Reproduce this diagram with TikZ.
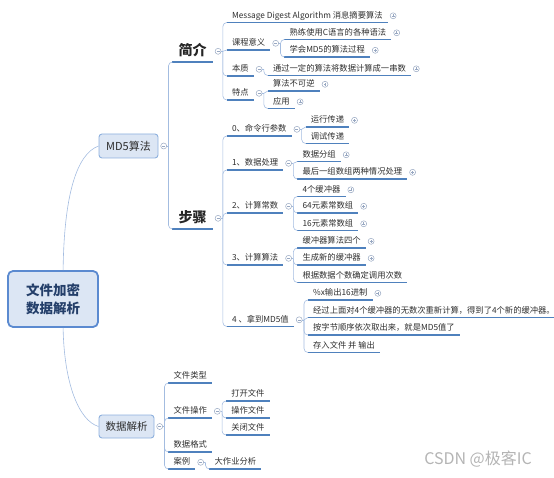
\documentclass[tikz,border=0pt]{standalone}
\usepackage{fontspec}
\setmainfont{Noto Sans CJK SC}
\usetikzlibrary{positioning,calc}
\definecolor{txt}{HTML}{2E2E2E}
\definecolor{ul}{HTML}{4F81BD}
\definecolor{cn}{HTML}{A3BCE0}
\definecolor{cc}{HTML}{98A8C2}
\definecolor{boxfill}{HTML}{DCE6F4}
\definecolor{rootdraw}{HTML}{5B8AD0}
\definecolor{boxdraw}{HTML}{8DB0DE}
\definecolor{roottxt}{HTML}{243F6A}
\definecolor{wmgray}{HTML}{B4B4B4}
\newcommand\mmbranch[2]{\draw[conn] (#1) |- (#2.south west);}
\newcommand\mmstraight[2]{\draw[conn] (#1) to[out=0,in=180] (#2.south west);}
\newcommand\mmstub[2]{\draw[conn] (#1.east) -- (#2);}
\begin{document}
\begin{tikzpicture}[x=1pt,y=-1pt,
  uline/.style={draw=ul, line width=1.1pt},
  conn/.style={draw=cn, line width=0.6pt, rounded corners=4pt},
  leaf/.style={font=\fontsize{8.3}{9}\selectfont, text=txt, inner xsep=5pt, inner ysep=2.5pt,
    text height=6.5pt, text depth=1.5pt, anchor=south west, xshift=4pt,
    append after command={(\tikzlastnode.south west) edge[uline] (\tikzlastnode.south east)}},
  title/.style={font=\fontsize{14}{16}\selectfont\bfseries, text=black!85, inner xsep=6pt, inner ysep=4pt,
    text height=11pt, text depth=2pt, anchor=south west, xshift=4pt,
    append after command={(\tikzlastnode.south west) edge[uline] (\tikzlastnode.south east)}},
  cplus/.style={circle, draw=cc, fill=white, line width=0.5pt, minimum size=6pt, inner sep=0pt,
    path picture={\draw[cc, line width=0.5pt]
      ([xshift=-1.4pt]path picture bounding box.center) -- ([xshift=1.4pt]path picture bounding box.center)
      ([yshift=-1.4pt]path picture bounding box.center) -- ([yshift=1.4pt]path picture bounding box.center);}},
  cminus/.style={circle, draw=cc, fill=white, line width=0.5pt, minimum size=6pt, inner sep=0pt,
    path picture={\draw[cc, line width=0.5pt]
      ([xshift=-1.5pt]path picture bounding box.center) -- ([xshift=1.5pt]path picture bounding box.center);}},
  rootbox/.style={draw=rootdraw, fill=boxfill, line width=1.8pt, rounded corners=5pt,
    minimum width=90pt, minimum height=56pt, align=center, text=roottxt,
    font=\fontsize{13.5}{18}\selectfont\bfseries},
  midbox/.style={draw=boxdraw, fill=boxfill, line width=0.9pt, rounded corners=3pt, text=txt, inner sep=0pt},
  wm/.style={text=wmgray, font=\fontsize{16}{18}\selectfont}
]
\useasboundingbox (0,0) rectangle (554,478);

% main boxes
\node[rootbox] (root) at (53,299) {文件加密\\数据解析};
\node[midbox, minimum width=59pt, minimum height=24pt, font=\fontsize{11}{13}\selectfont] (md5) at (128.5,146) {MD5算法};
\node[midbox, minimum width=55pt, minimum height=23pt, font=\fontsize{10.5}{12}\selectfont] (dj) at (126.5,426.5) {数据解析};
\node[cminus, right=2pt of md5] (md5c) {};
\node[cminus, right=2pt of dj] (djc) {};
\coordinate (md5s) at ([xshift=1.5pt]md5c.east);
\coordinate (djs) at ([xshift=1.5pt]djc.east);

\coordinate (rt) at ($(root.north west)!0.61!(root.north east)$);
\coordinate (rb) at ($(root.south west)!0.61!(root.south east)$);
\draw[conn] (rt) .. controls +(1,-75) and +(-22,8) .. (md5.west);
\draw[conn] (rb) .. controls +(1,55) and +(-20,-6) .. (dj.west);

% titles
\node[title] (jj) at (md5s |- 0,62) {简介};
\node[title] (bz) at (md5s |- 0,229) {步骤};
\mmstub{md5c}{md5s}
\mmbranch{md5s}{jj}
\mmbranch{md5s}{bz}
\node[cminus, right=2pt of jj] (jjc) {};
\node[cminus, right=2pt of bz] (bzc) {};
\coordinate (jjs) at ([xshift=1.5pt]jjc.east);
\coordinate (bzs) at ([xshift=1.5pt]bzc.east);

% 简介 children
\node[leaf] (a1) at (jjs |- 0,22.5) {Message Digest Algorithm 消息摘要算法};
\node[leaf] (a2) at (jjs |- 0,50) {课程意义};
\node[leaf] (a3) at (jjs |- 0,76) {本质};
\node[leaf] (a4) at (jjs |- 0,100) {特点};
\mmstub{jjc}{jjs}
\mmbranch{jjs}{a1}
\mmstraight{jjs}{a2}
\mmbranch{jjs}{a3}
\mmbranch{jjs}{a4}
\node[cplus, right=2pt of a1] (a1c) {};
\node[cminus, right=2pt of a2] (a2c) {};
\node[cminus, right=2pt of a3] (a3c) {};
\node[cminus, right=2pt of a4] (a4c) {};
\coordinate (a2s) at ([xshift=1.5pt]a2c.east);
\coordinate (a3s) at ([xshift=1.5pt]a3c.east);
\coordinate (a4s) at ([xshift=1.5pt]a4c.east);

\node[leaf] (a21) at (a2s |- 0,39.5) {熟练使用C语言的各种语法};
\node[leaf] (a22) at (a2s |- 0,57) {学会MD5的算法过程};
\mmstub{a2c}{a2s}
\mmbranch{a2s}{a21}
\mmbranch{a2s}{a22}
\node[cplus, right=2pt of a21] (a21c) {};
\node[cplus, right=2pt of a22] (a22c) {};

\node[leaf] (a31) at (a3s |- 0,75.5) {通过一定的算法将数据计算成一串数};
\mmstub{a3c}{a3s}
\mmbranch{a3s}{a31}
\node[cplus, right=2pt of a31] (a31c) {};

\node[leaf] (a41) at (a4s |- 0,91) {算法不可逆};
\node[leaf] (a42) at (a4s |- 0,108.5) {应用};
\mmstub{a4c}{a4s}
\mmstraight{a4s}{a41}
\mmbranch{a4s}{a42}
\node[cplus, right=2pt of a41] (a41c) {};
\node[cplus, right=2pt of a42] (a42c) {};

% 步骤 children
\node[leaf] (b0) at (bzs |- 0,136) {0、命令行参数};
\node[leaf] (b1) at (bzs |- 0,170) {1、数据处理};
\node[leaf] (b2) at (bzs |- 0,213) {2、计算常数};
\node[leaf] (b3) at (bzs |- 0,265) {3、计算算法};
\node[leaf] (b4) at (bzs |- 0,326.5) {4 、拿到MD5值};
\mmstub{bzc}{bzs}
\mmbranch{bzs}{b0}
\mmbranch{bzs}{b1}
\mmbranch{bzs}{b2}
\mmbranch{bzs}{b3}
\mmbranch{bzs}{b4}
\node[cminus, right=2pt of b0] (b0c) {};
\node[cminus, right=2pt of b1] (b1c) {};
\node[cminus, right=2pt of b2] (b2c) {};
\node[cminus, right=2pt of b3] (b3c) {};
\node[cminus, right=2pt of b4] (b4c) {};
\coordinate (b0s) at ([xshift=1.5pt]b0c.east);
\coordinate (b1s) at ([xshift=1.5pt]b1c.east);
\coordinate (b2s) at ([xshift=1.5pt]b2c.east);
\coordinate (b3s) at ([xshift=1.5pt]b3c.east);
\coordinate (b4s) at ([xshift=1.5pt]b4c.east);

\node[leaf] (b01) at (b0s |- 0,127) {运行传递};
\node[leaf] (b02) at (b0s |- 0,143.5) {调试传递};
\mmstub{b0c}{b0s}
\mmstraight{b0s}{b01}
\mmbranch{b0s}{b02}
\node[cplus, right=2pt of b01] (b01c) {};

\node[leaf] (b11) at (b1s |- 0,161.5) {数据分组};
\node[leaf] (b12) at (b1s |- 0,179) {最后一组数组两种情况处理};
\mmstub{b1c}{b1s}
\mmstraight{b1s}{b11}
\mmbranch{b1s}{b12}
\node[cplus, right=2pt of b11] (b11c) {};
\node[cplus, right=2pt of b12] (b12c) {};

\node[leaf] (b21) at (b2s |- 0,196.5) {4个缓冲器};
\node[leaf] (b22) at (b2s |- 0,213) {64元素常数组};
\node[leaf] (b23) at (b2s |- 0,230.5) {16元素常数组};
\mmstub{b2c}{b2s}
\mmbranch{b2s}{b21}
\mmbranch{b2s}{b22}
\mmbranch{b2s}{b23}
\node[cplus, right=2pt of b21] (b21c) {};
\node[cplus, right=2pt of b22] (b22c) {};
\node[cplus, right=2pt of b23] (b23c) {};

\node[leaf] (b31) at (b3s |- 0,248) {缓冲器算法四个};
\node[leaf] (b32) at (b3s |- 0,265) {生成新的缓冲器};
\node[leaf] (b33) at (b3s |- 0,282.5) {根据数据个数确定调用次数};
\mmstub{b3c}{b3s}
\mmbranch{b3s}{b31}
\mmbranch{b3s}{b32}
\mmbranch{b3s}{b33}
\node[cplus, right=2pt of b31] (b31c) {};
\node[cplus, right=2pt of b32] (b32c) {};

\node[leaf] (b41) at (b4s |- 0,300) {\%x输出16进制};
\node[leaf] (b42) at (b4s |- 0,317.5) {经过上面对4个缓冲器的无数次重新计算，得到了4个新的缓冲器。};
\node[leaf] (b43) at (b4s |- 0,335) {按字节顺序依次取出来，就是MD5值了};
\node[leaf] (b44) at (b4s |- 0,352.5) {存入文件 并 输出};
\mmstub{b4c}{b4s}
\mmbranch{b4s}{b41}
\mmstraight{b4s}{b42}
\mmbranch{b4s}{b43}
\mmbranch{b4s}{b44}
\node[cplus, right=2pt of b41] (b41c) {};

% 数据解析 children
\node[leaf] (c1) at (djs |- 0,383) {文件类型};
\node[leaf] (c2) at (djs |- 0,418) {文件操作};
\node[leaf] (c3) at (djs |- 0,452) {数据格式};
\node[leaf] (c4) at (djs |- 0,469) {案例};
\mmstub{djc}{djs}
\mmbranch{djs}{c1}
\mmbranch{djs}{c2}
\mmbranch{djs}{c3}
\mmbranch{djs}{c4}
\node[cminus, right=2pt of c2] (c2c) {};
\node[cminus, right=2pt of c4] (c4c) {};
\coordinate (c2s) at ([xshift=1.5pt]c2c.east);
\coordinate (c4s) at ([xshift=1.5pt]c4c.east);

\node[leaf] (c21) at (c2s |- 0,401) {打开文件};
\node[leaf] (c22) at (c2s |- 0,418) {操作文件};
\node[leaf] (c23) at (c2s |- 0,435) {关闭文件};
\mmstub{c2c}{c2s}
\mmbranch{c2s}{c21}
\mmbranch{c2s}{c22}
\mmbranch{c2s}{c23}

\node[leaf] (c41) at (c4s |- 0,469) {大作业分析};
\mmstub{c4c}{c4s}
\mmbranch{c4s}{c41}

% watermark
\node[wm] (wmk) at (478,459) {CSDN @极客IC};
\end{tikzpicture}
\end{document}
